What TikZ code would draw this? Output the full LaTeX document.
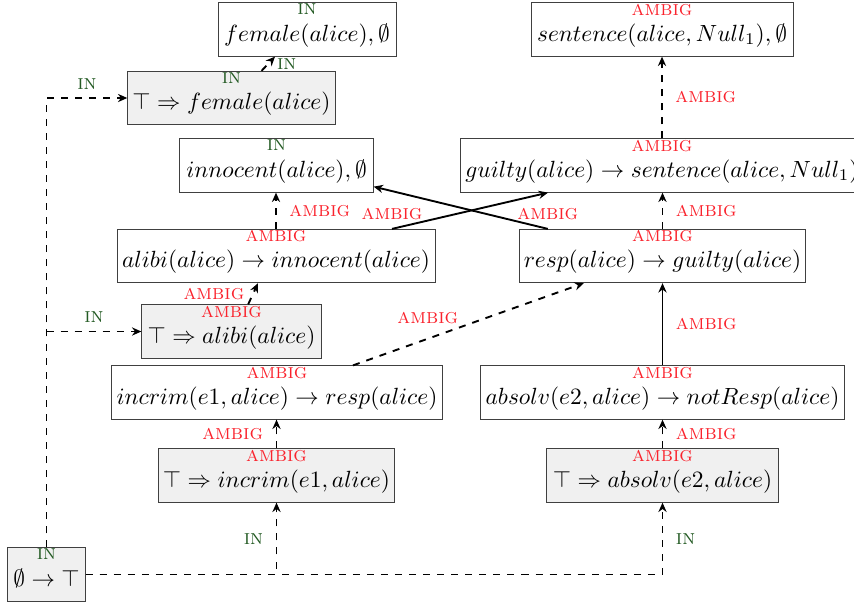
\documentclass[tikz,border=0pt]{standalone}
\usetikzlibrary{positioning,arrows.meta}

\definecolor{ingreen}{RGB}{35,90,35}
\definecolor{ambred}{RGB}{250,35,45}

\begin{document}
\begin{tikzpicture}[x=0.015cm, y=-0.015cm,
    box/.style={draw=black!75, rectangle, minimum height=0.8cm, inner xsep=2pt, inner ysep=2pt, text height=14pt, text depth=4pt},
    fact/.style={box, fill=black!6},
    inlbl/.style={label={[anchor=north, inner sep=0.5pt, text=ingreen, font=\small]north:\textsc{in}}},
    amblbl/.style={label={[anchor=north, inner sep=0.5pt, text=ambred, font=\small]north:\textsc{ambig}}},
    link/.style={-{Stealth[length=4pt,width=3.5pt]}, thick},
    dlink/.style={link, dashed},
    tin/.style={text=ingreen, font=\small},
    tamb/.style={text=ambred, font=\small}
]
\useasboundingbox (0,0) rectangle (854,606);

% Atoms and rules
\node[box, inlbl, minimum width=2.67cm] (fem) at (307,29.5) {$female(alice), \emptyset$};
\node[fact, inlbl, minimum width=3.05cm] (femF) at (231.5,98) {$\top \Rightarrow female(alice)$};
\node[box, inlbl, minimum width=2.9cm] (inno) at (276.5,165.5) {$innocent(alice), \emptyset$};
\node[box, amblbl, minimum width=3.93cm] (sent) at (662,29.5) {$sentence(alice, Null_1), \emptyset$};
\node[box, amblbl, minimum width=6cm] (guiltR) at (662,165.5) {$guilty(alice) \rightarrow sentence(alice, Null_1)$};
\node[box, amblbl, minimum width=4.77cm] (alibiR) at (276,256) {$alibi(alice) \rightarrow innocent(alice)$};
\node[box, amblbl, minimum width=4.3cm] (respR) at (662.5,256) {$resp(alice) \rightarrow guilty(alice)$};
\node[fact, amblbl, minimum width=2.69cm] (alibiF) at (231.5,331.5) {$\top \Rightarrow alibi(alice)$};
\node[box, amblbl, minimum width=4.89cm] (incrimR) at (277,392.5) {$incrim(e1, alice) \rightarrow resp(alice)$};
\node[box, amblbl, minimum width=5.45cm] (absolvR) at (662.5,392.5) {$absolv(e2, alice) \rightarrow notResp(alice)$};
\node[fact, amblbl, minimum width=3.47cm] (incrimF) at (276.5,475.5) {$\top \Rightarrow incrim(e1, alice)$};
\node[fact, amblbl, minimum width=3.47cm] (absolvF) at (662.5,475.5) {$\top \Rightarrow absolv(e2, alice)$};
\node[fact, inlbl, minimum width=1.16cm] (root) at (46.5,574.5) {$\emptyset \rightarrow \top$};

% Links from the root
\draw[dlink] (root.north) |- (femF.west) node[tin, pos=0.75, above] {\textsc{in}};
\draw[dlink] (root.north |- alibiF.west) -- (alibiF.west) node[tin, midway, above] {\textsc{in}};
\draw[dlink] (root.east) -| (incrimF.south) node[tin, pos=0.75, left=2pt] {\textsc{in}};
\draw[dlink] (root.east) -| (absolvF.south) node[tin, pos=0.75, right=2pt] {\textsc{in}};

% Short links
\draw[dlink] ([xshift=0.45cm]femF.north) -- ([xshift=-0.48cm]fem.south) node[tin, midway, right] {\textsc{in}};
\draw[dlink] ([xshift=0.25cm]alibiF.north) -- ([xshift=-0.27cm]alibiR.south) node[tamb, midway, left] {\textsc{ambig}};
\draw[dlink] (alibiR.north) -- (alibiR.north |- inno.south) node[tamb, midway, right=2pt] {\textsc{ambig}};
\draw[dlink] (incrimF.north) -- (incrimF.north |- incrimR.south) node[tamb, midway, left=2pt] {\textsc{ambig}};

% Crossing links
\draw[link] ([xshift=1.74cm]alibiR.north) -- ([xshift=-1.71cm]guiltR.south) node[tamb, pos=0, above] {\textsc{ambig}};
\draw[link] ([xshift=-1.72cm]respR.north) -- ([yshift=0.09cm]inno.south east) node[tamb, pos=0, above] {\textsc{ambig}};
\draw[dlink] ([xshift=1.14cm]incrimR.north) -- ([xshift=-1.18cm]respR.south) node[tamb, pos=0.47, anchor=south east, inner sep=1pt] {\textsc{ambig}};

% Right column
\foreach \a/\b in {absolvF/absolvR, respR/guiltR, guiltR/sent}{
  \draw[dlink] (\a.north) -- (\a.north |- \b.south) node[tamb, midway, right=2pt] {\textsc{ambig}};
}
\draw[link] (absolvR.north) -- (absolvR.north |- respR.south) node[tamb, midway, right=2pt] {\textsc{ambig}};

\end{tikzpicture}
\end{document}
